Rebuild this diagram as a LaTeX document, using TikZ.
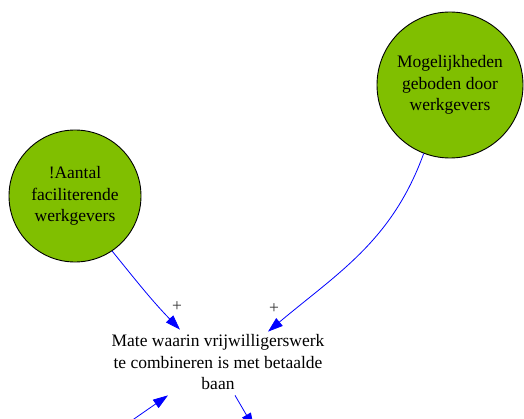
\documentclass[tikz,border=0pt]{standalone}
\usepackage{fontspec}
\setmainfont{Liberation Serif}
\usetikzlibrary{arrows.meta}
\definecolor{factorgroen}{RGB}{128,191,0}
\begin{document}
\begin{tikzpicture}[
       x=1pt, y=1pt,
       font=\fontsize{17.5}{21.5}\selectfont,
       factor/.style={
         circle,
         draw=black,
         fill=factorgroen,
         line width=0.9pt,
         inner sep=0pt,
         align=center
       },
       invloed/.style={
         blue,
         line width=0.8pt,
         -{Triangle[length=15pt,width=10pt]}
       }
     ]
       \useasboundingbox (0,0) rectangle (524,418);

       \node (aantal) at (75,222) [factor,minimum size=132pt]{!Aantal\\faciliterende\\werkgevers};
       \node (mogelijk) at (450,333) [factor,minimum size=146pt]{Mogelijkheden\\geboden door\\werkgevers};
       \node (mate) at (218,55.5) [align=center,inner sep=5pt]{Mate waarin vrijwilligerswerk\\te combineren is met betaalde\\baan};

       \coordinate (onder1) at (121,-10);
       \coordinate (onder2) at (254,-10);

       \draw[invloed] (aantal.-56) to[out=-51,in=134] ([xshift=-38pt]mate.north);
       \draw[invloed] (mogelijk.-111) to[out=-110,in=40] ([xshift=50pt,yshift=-2pt]mate.north);
       \draw[invloed] (onder1) -- ([xshift=-50pt]mate.south);
       \draw[invloed] ([xshift=17pt]mate.south) -- (onder2);

       \node (plus1) at (177,111) [text=black!80]{+};
       \node (plus2) at (274,109) [text=black!80]{+};

\end{tikzpicture}
\end{document}
